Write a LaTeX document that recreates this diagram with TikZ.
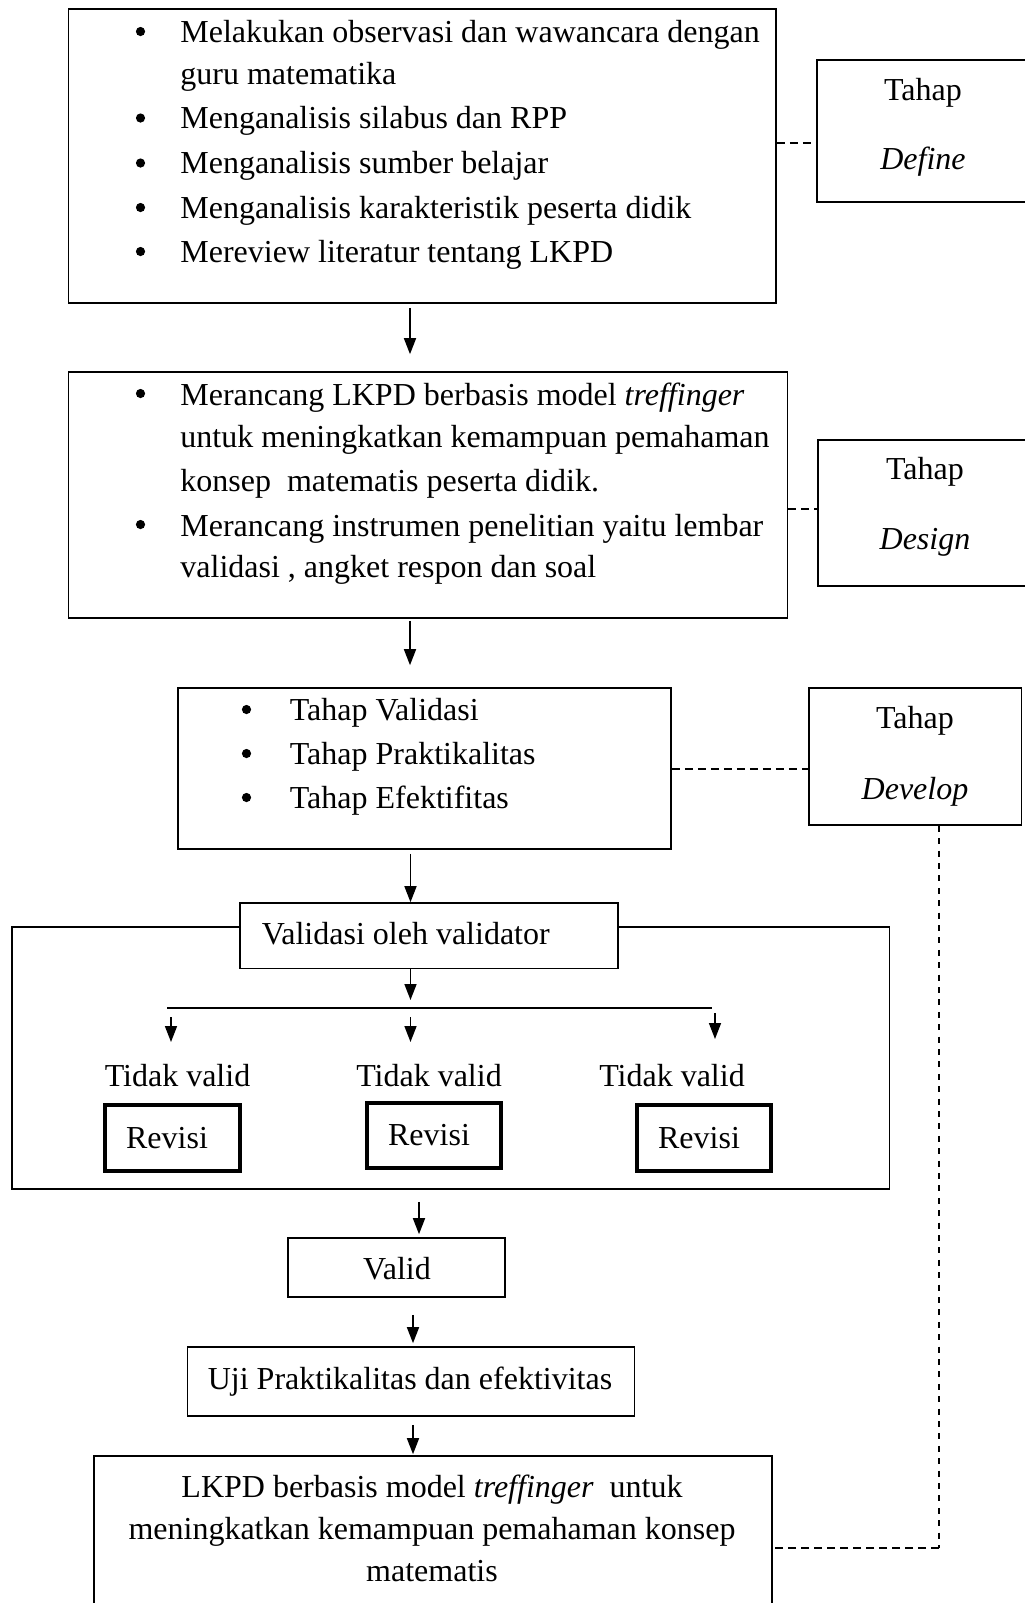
\documentclass[tikz,border=0pt]{standalone}
\usepackage{fontspec}
\setmainfont{Liberation Serif}
\usetikzlibrary{arrows.meta,fit}
\begin{document}
\begin{tikzpicture}[x=0.5pt,y=-0.5pt,
  box/.style={draw, line width=0.8pt, inner sep=0pt},
  thickbox/.style={draw, line width=2pt, inner sep=0pt},
  txt/.style={inner sep=0pt, font=\fontsize{16}{19}\selectfont},
  bul/.style={circle, fill, inner sep=0pt, minimum size=4.6pt},
  arr/.style={line width=0.8pt, -{Triangle[length=8pt,width=6pt]}},
  dsh/.style={line width=0.8pt, dash pattern=on 4pt off 2.5pt},
  vdsh/.style={line width=0.9pt, dash pattern=on 3pt off 3.2pt},
  ln/.style={line width=0.8pt}]
\useasboundingbox (0,0) rectangle (1024,1603);

% ---------- Define ----------
\node[box, fit={(68.5,9) (776,303)}] (b1) {};
\node[bul] (bu11) at (140.5,31.5) {};
\node[txt, anchor=mid west] (t11) at (180,38) {Melakukan observasi dan wawancara dengan};
\node[txt, anchor=mid west] (t12) at (180,79.5) {guru matematika};
\node[bul] (bu12) at (140.5,118) {};
\node[txt, anchor=mid west] (t13) at (180,124.4) {Menganalisis silabus dan RPP};
\node[bul] (bu13) at (140.5,163) {};
\node[txt, anchor=mid west] (t14) at (180,169.3) {Menganalisis sumber belajar};
\node[bul] (bu14) at (140.5,207.5) {};
\node[txt, anchor=mid west] (t15) at (180,214) {Menganalisis karakteristik peserta didik};
\node[bul] (bu15) at (140.5,251.5) {};
\node[txt, anchor=mid west] (t16) at (180,258) {Mereview literatur tentang LKPD};

\node[box, fit={(817,60) (1030,202)}] (def) {};
\node[txt, anchor=mid] (def1) at (923,96) {Tahap};
\node[txt, anchor=mid] (def2) at (923,164.5) {\itshape Define};
\draw[dsh] (b1.east |- 0,143) -- (def.west |- 0,143);

% ---------- Design ----------
\node[box, fit={(68.5,372) (787.5,618)}] (b2) {};
\node[bul] (bu21) at (140.5,393.5) {};
\node[txt, anchor=mid west] (t21) at (180,401) {Merancang LKPD berbasis model \textit{treffinger}};
\node[txt, anchor=mid west] (t22) at (180,442.7) {untuk meningkatkan kemampuan pemahaman};
\node[txt, anchor=mid west] (t23) at (180,486.8) {konsep~~matematis peserta didik.};
\node[bul] (bu22) at (140.5,524.5) {};
\node[txt, anchor=mid west] (t24) at (180,531.7) {Merancang instrumen penelitian yaitu lembar};
\node[txt, anchor=mid west] (t25) at (180,573.3) {validasi , angket respon dan soal};

\node[box, fit={(818,440) (1030,586)}] (des) {};
\node[txt, anchor=mid] (des1) at (925,475) {Tahap};
\node[txt, anchor=mid] (des2) at (925,545) {\itshape Design};
\draw[dsh] (b2.east |- 0,509) -- (des.west |- 0,509);

% ---------- Develop ----------
\node[box, fit={(178,688) (671,849)}] (b3) {};
\node[bul] (bu31) at (246.5,709.5) {};
\node[txt, anchor=mid west] (t31) at (289.5,716) {Tahap Validasi};
\node[bul] (bu32) at (246.5,753.5) {};
\node[txt, anchor=mid west] (t32) at (289.5,760.3) {Tahap Praktikalitas};
\node[bul] (bu33) at (246.5,797.5) {};
\node[txt, anchor=mid west] (t33) at (289.5,804) {Tahap Efektifitas};

\node[box, fit={(809,688) (1021.6,825)}] (dev) {};
\node[txt, anchor=mid] (dev1) at (915,723.5) {Tahap};
\node[txt, anchor=mid] (dev2) at (915,794.5) {\itshape Develop};
\draw[dsh] (b3.east |- 0,769) -- (dev.west |- 0,769);

% ---------- Validation block ----------
\node[box, fit={(12,927) (889.5,1189)}] (cont) {};
\node[box, fill=white, fit={(240,903) (618,968.5)}] (val) {};
\node[txt, anchor=mid west] (valt) at (261.4,940) {Validasi oleh validator};

\coordinate (c4) at (410.5,1000);
\coordinate (hl) at (167,1008);
\coordinate (hr) at (712,1008);
\coordinate (s1) at (171,1017);
\coordinate (e1) at (171,1042);
\coordinate (s2) at (410.5,1017);
\coordinate (e2) at (410.5,1042);
\coordinate (s3) at (715,1013);
\coordinate (e3) at (715,1039);

\node[txt, anchor=mid] (tv1) at (177.5,1081.5) {Tidak valid};
\node[txt, anchor=mid] (tv2) at (429,1081.5) {Tidak valid};
\node[txt, anchor=mid] (tv3) at (672,1081.5) {Tidak valid};

\node[thickbox, fit={(105,1105) (240,1171)}] (r1) {};
\node[thickbox, fit={(367,1102.5) (501,1168)}] (r2) {};
\node[thickbox, fit={(637,1105) (771,1171)}] (r3) {};
\node[txt, anchor=mid] (r1t) at (167,1144) {Revisi};
\node[txt, anchor=mid] (r2t) at (429,1141) {Revisi};
\node[txt, anchor=mid] (r3t) at (699,1144) {Revisi};

% ---------- Bottom chain ----------
\node[box, fit={(288,1238) (505,1297)}] (vld) {};
\node[txt, anchor=mid] (vldt) at (397,1275) {Valid};
\node[box, fit={(187.6,1347) (634.6,1416)}] (uji) {};
\node[txt, anchor=mid] (ujit) at (410,1384.5) {Uji Praktikalitas dan efektivitas};
\node[box, fit={(94,1456) (772,1625)}] (lkpd) {};
\node[txt, anchor=mid] (lk1) at (432,1492.5) {LKPD berbasis model \textit{treffinger}~~untuk};
\node[txt, anchor=mid] (lk2) at (432,1534.5) {meningkatkan kemampuan pemahaman konsep};
\node[txt, anchor=mid] (lk3) at (432,1576.5) {matematis};

\coordinate (dc) at (939,1548);
\draw[vdsh] (dev.south -| dc) -- (dc);
\draw[dsh] (dc) -- (lkpd.east |- dc);

% ---------- Arrows ----------
\draw[arr] ([shift={(-12.25,4)}]b1.south) -- ([shift={(-18,-17)}]b2.north);
\draw[arr] ([shift={(-18,2)}]b2.south) -- ([shift={(-14.5,-22)}]b3.north);
\draw[arr] ([shift={(-14,4)}]b3.south) -- ([shift={(-18.5,0)}]val.north);
\draw[arr] ([shift={(-18.5,0)}]val.south) -- (c4);
\draw[ln] (hl) -- (hr);
\draw[arr] (s1) -- (e1);
\draw[arr] (s2) -- (e2);
\draw[arr] (s3) -- (e3);
\draw[arr] ([shift={(-31.75,12)}]cont.south) -- ([shift={(22.5,-3)}]vld.north);
\draw[arr] ([shift={(16.5,17)}]vld.south) -- ([shift={(1.9,-3)}]uji.north);
\draw[arr] ([shift={(1.9,8)}]uji.south) -- ([shift={(-20,-1)}]lkpd.north);
\end{tikzpicture}
\end{document}
